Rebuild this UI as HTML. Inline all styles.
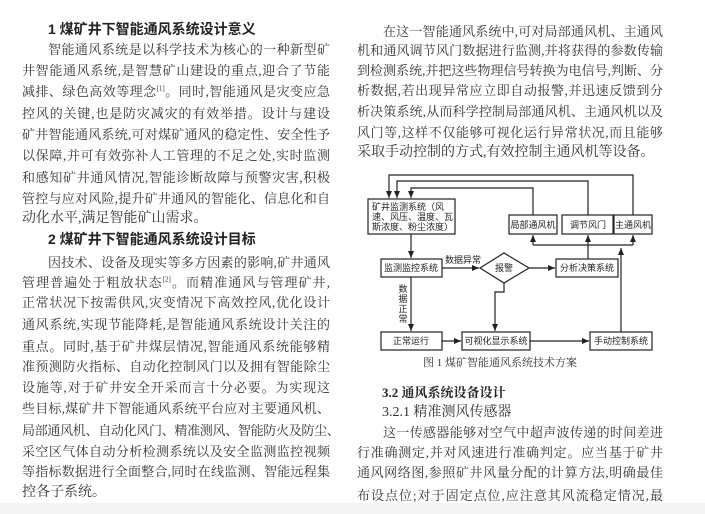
<!DOCTYPE html>
<html><head><meta charset="utf-8"><style>
body{margin:0;width:705px;height:514px;background:#fff;position:relative;overflow:hidden;font-family:"Liberation Serif","Noto Serif CJK SC","Noto Sans CJK SC",serif;color:#333;}
.l{position:absolute;font-size:14px;line-height:16px;white-space:nowrap;}
.j{text-align:justify;text-align-last:justify;white-space:normal;font-size:13px;height:16px;overflow:visible;}
.L{left:22px;width:308px;}
.R{left:357px;width:306px;}
.h{font-family:"Liberation Sans","Noto Sans CJK SC",sans-serif;font-weight:bold;color:#222;}
sup{font-size:7px;line-height:0;}
.bar{position:absolute;left:0;top:503px;width:705px;height:11px;background:#f4f4f4;}
svg text{font-family:"Liberation Sans","Noto Sans CJK SC",sans-serif;font-size:9px;fill:#222;}
</style></head><body>
<div class="l h" style="left:48px;top:21px">1 煤矿井下智能通风系统设计意义</div>
<div class="l j" style="left:48px;width:282px;top:42px">智能通风系统是以科学技术为核心的一种新型矿</div>
<div class="l j L" style="top:63px">井智能通风系统,是智慧矿山建设的重点,迎合了节能</div>
<div class="l j L" style="top:84px">减排、绿色高效等理念<sup>[1]</sup>。同时,智能通风是灾变应急</div>
<div class="l j L" style="top:106px">控风的关键,也是防灾减灾的有效举措。设计与建设</div>
<div class="l j L" style="top:127px">矿井智能通风系统,可对煤矿通风的稳定性、安全性予</div>
<div class="l j L" style="top:148px">以保障,并可有效弥补人工管理的不足之处,实时监测</div>
<div class="l j L" style="top:170px">和感知矿井通风情况,智能诊断故障与预警灾害,积极</div>
<div class="l j L" style="top:191px">管控与应对风险,提升矿井通风的智能化、信息化和自</div>
<div class="l L" style="top:211px">动化水平,满足智能矿山需求。</div>
<div class="l h" style="left:48px;top:231px">2 煤矿井下智能通风系统设计目标</div>
<div class="l j" style="left:48px;width:282px;top:255px">因技术、设备及现实等多方因素的影响,矿井通风</div>
<div class="l j L" style="top:275px">管理普遍处于粗放状态<sup>[2]</sup>。而精准通风与管理矿井,</div>
<div class="l j L" style="top:295px">正常状况下按需供风,灾变情况下高效控风,优化设计</div>
<div class="l j L" style="top:317px">通风系统,实现节能降耗,是智能通风系统设计关注的</div>
<div class="l j L" style="top:339px">重点。同时,基于矿井煤层情况,智能通风系统能够精</div>
<div class="l j L" style="top:359px">准预测防火指标、自动化控制风门以及拥有智能除尘</div>
<div class="l j L" style="top:380px">设施等,对于矿井安全开采而言十分必要。为实现这</div>
<div class="l j L" style="top:401px">些目标,煤矿井下智能通风系统平台应对主要通风机、</div>
<div class="l L" style="top:423px;font-size:13px;letter-spacing:-0.3px">局部通风机、自动化风门、精准测风、智能防火及防尘、</div>
<div class="l j L" style="top:444px">采空区气体自动分析检测系统以及安全监测监控视频</div>
<div class="l j L" style="top:464px">等指标数据进行全面整合,同时在线监测、智能远程集</div>
<div class="l L" style="top:485px">控各子系统。</div>

<div class="l j" style="left:383px;width:280px;top:24px">在这一智能通风系统中,可对局部通风机、主通风</div>
<div class="l j R" style="top:43px">机和通风调节风门数据进行监测,并将获得的参数传输</div>
<div class="l j R" style="top:63px">到检测系统,并把这些物理信号转换为电信号,判断、分</div>
<div class="l j R" style="top:83px">析数据,若出现异常应立即自动报警,并迅速反馈到分</div>
<div class="l j R" style="top:104px">析决策系统,从而科学控制局部通风机、主通风机以及</div>
<div class="l j R" style="top:125px">风门等,这样不仅能够可视化运行异常状况,而且能够</div>
<div class="l R" style="top:145px">采取手动控制的方式,有效控制主通风机等设备。</div>

<svg style="position:absolute;left:0;top:0" width="705" height="514">
<defs><marker id="a" markerWidth="8" markerHeight="8" refX="7" refY="4" orient="auto" markerUnits="userSpaceOnUse"><path d="M0,1 L7,4 L0,7 Z" fill="#222"/></marker></defs>
<g stroke="#222" stroke-width="1.2" fill="none">
<rect x="368" y="199" width="87" height="35" fill="#fff"/>
<rect x="509" y="215" width="48" height="19"/>
<rect x="562" y="215" width="51" height="19"/>
<rect x="614" y="215" width="38" height="19"/>
<rect x="381" y="259" width="61" height="18"/>
<rect x="556" y="259" width="62" height="18"/>
<path d="M480,268 L504,253 L529,268 L504,283 Z"/>
<rect x="381" y="332" width="61" height="18"/>
<rect x="462" y="332" width="68" height="18"/>
<rect x="590" y="332" width="62" height="18"/>
<path d="M633,215 V175 H389 V198" marker-end="url(#a)"/>
<path d="M588,215 V181 H397 V198" marker-end="url(#a)"/>
<path d="M533,215 V188 H411 V198" marker-end="url(#a)"/>
<path d="M533,245 H633"/>
<path d="M533,245 V235" marker-end="url(#a)"/>
<path d="M588,259 V235" marker-end="url(#a)"/>
<path d="M633,245 V235" marker-end="url(#a)"/>
<path d="M621,332 V248" marker-end="url(#a)"/>
<path d="M411,234 V258" marker-end="url(#a)"/>
<path d="M442,268 H479" marker-end="url(#a)"/>
<path d="M529,268 H555" marker-end="url(#a)"/>
<path d="M504,283 V292 H495 V331" marker-end="url(#a)"/>
<path d="M411,277 V331" marker-end="url(#a)"/>
<path d="M442,341 H461" marker-end="url(#a)"/>
<path d="M530,341 H589" marker-end="url(#a)"/>
</g>
<text x="372" y="210">矿井监测系统（风</text>
<text x="372" y="220">速、风压、温度、瓦</text>
<text x="372" y="230">斯浓度、粉尘浓度）</text>
<text x="533" y="228" text-anchor="middle">局部通风机</text>
<text x="588" y="228" text-anchor="middle">调节风门</text>
<text x="633" y="228" text-anchor="middle">主通风机</text>
<text x="411" y="271" text-anchor="middle">监测监控系统</text>
<text x="445" y="263">数据异常</text>
<text x="504" y="271" text-anchor="middle">报警</text>
<text x="587" y="271" text-anchor="middle">分析决策系统</text>
<text x="403" y="292" text-anchor="middle">数</text>
<text x="403" y="302" text-anchor="middle">据</text>
<text x="403" y="312" text-anchor="middle">正</text>
<text x="403" y="322" text-anchor="middle">常</text>
<text x="411" y="344" text-anchor="middle">正常运行</text>
<text x="496" y="344" text-anchor="middle">可视化显示系统</text>
<text x="621" y="344" text-anchor="middle">手动控制系统</text>
<text x="423" y="366" style="font-family:'Liberation Serif','Noto Serif CJK SC',serif;font-size:11px;fill:#333">图 1    煤矿智能通风系统技术方案</text>
</svg>

<div class="l h" style="left:382px;top:385px;font-size:13px;font-family:'Liberation Serif','Noto Serif CJK SC',serif">3.2 通风系统设备设计</div>
<div class="l" style="left:382px;top:405px">3.2.1 精准测风传感器</div>
<div class="l j" style="left:383px;width:280px;top:425px">这一传感器能够对空气中超声波传递的时间差进</div>
<div class="l j R" style="top:445px">行准确测定,并对风速进行准确判定。应当基于矿井</div>
<div class="l j R" style="top:465px">通风网络图,参照矿井风量分配的计算方法,明确最佳</div>
<div class="l j R" style="top:488px">布设点位;对于固定点位,应注意其风流稳定情况,最</div>
<div class="bar"></div>
</body></html>
